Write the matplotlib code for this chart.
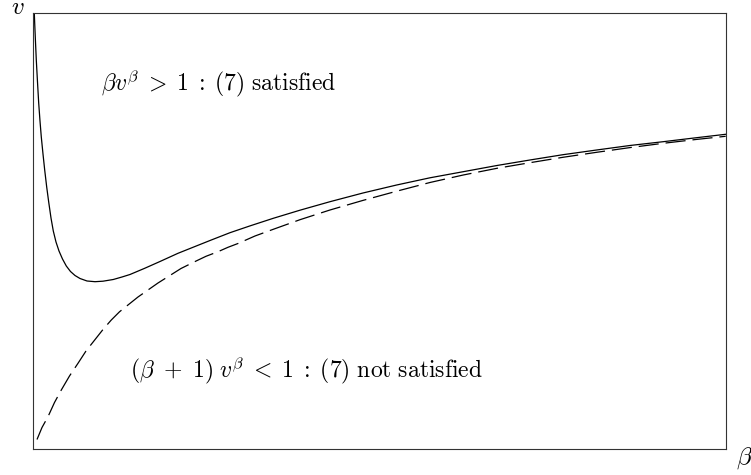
import numpy as np
import matplotlib
matplotlib.use("Agg")
import matplotlib.pyplot as plt

plt.rcParams['mathtext.fontset'] = 'cm'
plt.rcParams['lines.scale_dashes'] = False

px_sat = [34.3, 34.7, 35.5, 36.3, 37.5, 38.7, 40.0, 41.3, 43.0, 44.7, 46.7, 48.7, 51.0,
          53.3, 56.0, 59.0, 62.5, 66.3, 70.5, 75.0, 80.0, 87.0, 95.0, 103.0, 113.3,
          122.0, 130.0, 144.7, 160.0, 178.0, 195.0, 211.3, 230.0, 250.0, 273.3, 300.0,
          330.0, 363.0, 396.7, 430.0, 463.3, 497.0, 530.0, 563.0, 596.7, 630.0, 663.3,
          695.0, 725.7]
py_sat = [13.0, 23.3, 42.0, 60.0, 82.0, 103.0, 121.0, 137.0, 154.0, 170.0, 187.0, 202.0,
          218.0, 231.0, 242.0, 251.0, 259.0, 266.0, 271.5, 275.5, 278.5, 281.0, 281.7,
          281.2, 279.5, 277.0, 274.5, 268.3, 261.5, 253.3, 246.5, 240.0, 232.7, 225.9,
          218.3, 210.2, 201.7, 193.0, 185.0, 177.8, 171.7, 165.5, 160.0, 154.7, 150.0,
          145.5, 141.7, 137.9, 134.3]

px_not = [37.0, 42.0, 48.0, 54.5, 61.3, 69.5, 78.0, 86.0, 94.7, 103.0, 111.3, 119.5,
          128.0, 138.0, 148.0, 158.0, 168.0, 181.0, 194.7, 206.0, 218.0, 228.0, 238.0,
          255.0, 273.3, 300.0, 330.0, 363.0, 396.7, 430.0, 463.3, 497.0, 530.0, 563.0,
          596.7, 630.0, 663.3, 695.0, 725.7]
py_not = [439.5, 427.5, 416.7, 402.5, 390.0, 376.0, 363.3, 351.0, 340.0, 329.5, 320.0,
          311.8, 305.0, 297.0, 290.0, 283.0, 276.7, 268.5, 261.7, 256.3, 251.7, 247.3,
          243.5, 236.0, 229.3, 219.7, 210.0, 200.4, 191.2, 182.5, 175.0, 168.3, 162.7,
          157.3, 152.3, 147.6, 143.3, 139.6, 136.3]

# escala do eixo: beta em [0, 30], v em [0.45, 1.05]
def to_beta(px):
    return (np.array(px) - 33.5) * 30 / 692.2

def to_v(py):
    return 1.05 - (np.array(py) - 12.7) * 0.6 / 436.6

fig = plt.figure(figsize=(7.51, 4.75), dpi=100)
ax = fig.add_axes([0.0446, 0.0541, 0.9217, 0.9192])

ax.plot(to_beta(px_sat), to_v(py_sat), color='black', lw=0.9)
ax.plot(to_beta(px_not), to_v(py_not), color='black', lw=0.9, dashes=(14.5, 5))

ax.set_xlim(0, 30)
ax.set_ylim(0.45, 1.05)
ax.set_xticks([])
ax.set_yticks([])
for s in ax.spines.values():
    s.set_linewidth(0.8)
    s.set_color('#333333')

ax.text(2.925, 0.9424, r'$\beta v^{\beta} \;>\; 1 \;:\; (7)\ \mathrm{satisfied}$',
        fontsize=17, ha='left', va='baseline')
ax.text(4.182, 0.548,
        r'$(\beta \ +\ 1)\; v^{\beta} \;<\; 1 \;:\; (7)\ \mathrm{not\ satisfied}$',
        fontsize=17, ha='left', va='baseline')

fig.text(0.024, 1 - 14 / 475, r'$v$', fontsize=18, ha='center', va='baseline')
fig.text(0.9907, 0.0358, r'$\beta$', fontsize=18, ha='center', va='center')

fig.savefig('out.png', dpi=100)
